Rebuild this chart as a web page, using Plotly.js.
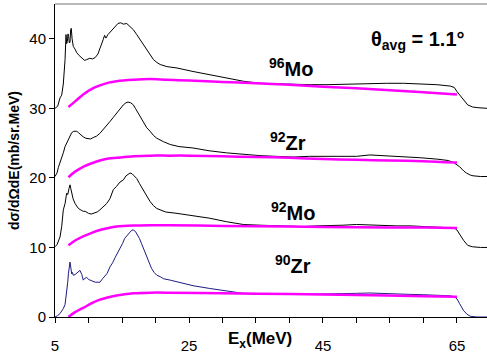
<!DOCTYPE html>
<html>
<head>
<meta charset="utf-8">
<script src="https://cdn.plot.ly/plotly-3.0.1.min.js"></script>
<style>html,body{margin:0;padding:0;background:#fff;}#chart{width:487px;height:353px;}</style>
</head>
<body>
<div id="chart"></div>
<script>
// ---- 96Mo spectrum (offset +30) ----
const mo96E = [5.0,5.4,5.75,6.0,6.24,6.4,6.5,6.64,6.74,6.84,6.94,7.04,7.14,7.24,7.34,7.43,7.55,7.73,8.0,8.24,8.6,9.0,9.4,9.73,10.2,10.6,11.0,11.4,11.7,12.0,12.2,12.4,12.6,12.9,13.2,13.6,14.0,14.4,14.8,15.2,15.7,16.2,16.7,17.2,17.7,18.2,18.7,19.2,19.7,20.2,20.7,21.7,23.2,25.6,28.1,30.6,33.1,35.6,38.1,40.5,43.1,45.6,49.5,52,54.5,57,59.5,62,64.0,64.6,65.0,65.5,66.0,66.6,67.3,68.0,69.5];
const mo96Y = [30.0,30.3,31.5,31.9,33.5,35.5,37.0,40.6,39.3,39.6,40.7,40.3,39.4,39.5,41.3,41.5,40.0,38.9,38.5,38.0,37.6,37.2,36.9,37.0,37.2,37.1,37.3,37.8,38.5,39.3,39.9,40.5,40.1,40.6,40.9,41.3,41.8,42.2,42.3,42.1,42.2,41.8,41.3,40.6,39.9,39.2,38.5,37.7,37.0,36.6,36.3,36.0,35.8,35.3,34.8,34.4,33.9,33.6,33.5,33.4,33.4,33.4,33.5,33.6,33.6,33.6,33.5,33.4,33.2,33.0,32.4,31.8,31.2,30.5,30.2,30.1,30.0];
const mo96BgE = [7,8,9.2,10.5,11.7,13,14.2,16.7,19.2,21.7,25,30,35,40,45,50,55,60,65];
const mo96BgY = [30.2,31.0,32.0,32.8,33.3,33.7,33.9,34.1,34.2,34.1,34.0,33.8,33.6,33.4,33.1,32.9,32.6,32.3,32.0];

// ---- 92Zr spectrum (offset +20) ----
const zr92E = [5.0,5.3,5.5,5.8,6.0,6.24,6.5,6.74,6.99,7.2,7.49,7.8,8.24,8.5,8.73,9.0,9.22,9.6,9.97,10.3,10.7,11.2,11.7,12.1,12.5,13.2,13.7,14.2,14.7,15.2,15.6,15.9,16.3,16.7,17.0,17.4,17.8,18.2,18.7,19.2,19.7,20.2,20.7,21.2,22.2,23.5,25.6,28,30.6,33,35.6,38,40.6,43,45.6,48,50,52,54.5,57,59.5,62,63.7,64.5,65.0,65.4,66.0,66.4,67.0,67.4,68.5,69.5];
const zr92Y = [20.2,20.7,21.5,22.3,22.8,23.6,24.5,25.0,25.6,26.1,26.5,26.7,26.7,26.5,26.3,26.0,25.9,25.7,25.7,25.6,25.8,26.0,26.4,26.9,27.3,28.1,28.7,29.3,29.9,30.5,30.8,30.9,30.8,30.5,30.0,29.3,28.6,27.9,27.2,26.7,26.1,25.7,25.4,25.2,24.8,24.5,24.3,23.9,23.6,23.4,23.2,23.1,23.0,23.1,23.1,23.2,23.1,23.3,23.2,23.1,22.9,22.7,22.5,22.2,21.9,21.6,21.0,20.7,20.4,20.3,20.2,20.2];
const zr92BgE = [7,8,9.2,10.5,11.7,13,14.2,16.7,19.2,22,25,30,35,40,45,50,55,60,65];
const zr92BgY = [20.1,20.9,21.6,22.1,22.5,22.8,22.9,23.1,23.2,23.2,23.2,23.1,23.0,22.9,22.7,22.6,22.5,22.4,22.2];

// ---- 92Mo spectrum (offset +10) ----
const mo92E = [5.0,5.3,5.75,6.0,6.24,6.5,6.74,6.9,7.1,7.24,7.35,7.49,7.7,8.0,8.24,8.5,9.0,9.22,9.5,10.0,10.4,10.9,11.3,11.7,12.2,12.7,13.2,13.7,14.2,14.7,15.2,15.6,16.2,16.5,16.8,17.2,17.6,18.2,18.7,19.2,19.7,20.2,20.7,21.5,23.2,25.6,28.1,30.6,33.1,35.6,38,40,42,44,46,48,50,52,54,56,58,60,62,64,64.6,65.0,65.7,66.0,66.6,67.3,68.5,69.5];
const mo92Y = [10.1,10.4,11.5,13.0,15.4,16.3,17.8,17.6,18.5,19.0,18.5,17.8,17.0,16.3,15.9,15.6,15.3,15.2,15.2,14.9,14.8,15.0,15.1,15.4,15.9,16.3,17.0,18.3,18.8,19.4,19.7,20.3,20.7,20.6,20.3,19.9,19.2,18.3,17.4,16.6,16.0,15.6,15.4,15.1,14.9,14.6,14.2,13.7,13.3,13.2,13.1,13.1,13.0,13.1,13.1,13.2,13.3,13.2,13.2,13.1,13.1,13.0,13.0,12.9,12.8,12.5,11.3,11.0,10.3,10.1,10.0,10.0];
const mo92BgE = [7,8,9.2,10.5,11.7,13,14.2,16.7,19.2,22,30,40,50,60,65];
const mo92BgY = [10.3,11.0,11.6,12.1,12.5,12.8,13.0,13.15,13.2,13.2,13.1,13.0,12.9,12.85,12.8];

// ---- 90Zr spectrum (no offset) ----
const zr90E = [5.0,5.4,5.75,6.0,6.24,6.5,6.74,6.9,7.0,7.1,7.24,7.35,7.49,7.6,7.73,8.0,8.24,8.5,8.73,9.0,9.22,9.5,9.73,10.0,10.2,10.6,11.0,11.4,11.7,12.1,12.5,12.8,13.2,13.6,14.0,14.4,14.7,15.1,15.4,15.8,16.2,16.5,16.7,17.0,17.2,17.6,17.9,18.3,18.7,19.0,19.4,19.8,20.2,20.7,21.2,22.2,23.7,25.6,28.1,30.6,33.1,35.6,38,40,42,44,46,48,50,52,54,56,58,60,62,64,64.6,65.0,65.4,65.8,66.0,66.5,67.0,68,69.5];
const zr90Y = [0.0,0.2,0.5,0.8,1.2,1.8,3.3,5.0,6.2,7.5,7.9,7.2,6.2,6.4,6.0,6.1,6.3,6.6,6.7,6.1,5.3,5.6,5.7,5.4,5.3,5.1,5.0,5.0,5.0,5.5,6.0,6.3,7.2,7.8,8.6,9.3,9.8,10.6,11.3,11.8,12.2,12.5,12.5,12.3,12.0,11.3,10.6,9.6,8.6,7.8,7.0,6.4,6.0,5.8,5.5,5.3,4.9,4.5,4.1,3.7,3.4,3.35,3.3,3.3,3.25,3.3,3.3,3.35,3.4,3.45,3.35,3.3,3.25,3.2,3.1,3.05,2.9,2.6,1.9,1.3,0.9,0.4,0.1,0.0,0.0];
const zr90BgE = [7,8,9.2,10.5,11.7,13,14.2,16.7,19.2,22,30,40,50,60,65];
const zr90BgY = [0.0,0.7,1.3,2.0,2.5,2.85,3.1,3.4,3.5,3.5,3.4,3.3,3.15,3.0,2.9];

const xTicks = [5, 25, 45, 65];
const yTicks = [0, 10, 20, 30, 40];

const spectra = [
  {e: mo96E, y: mo96Y, be: mo96BgE, by: mo96BgY, color: '#000000'},
  {e: zr92E, y: zr92Y, be: zr92BgE, by: zr92BgY, color: '#000000'},
  {e: mo92E, y: mo92Y, be: mo92BgE, by: mo92BgY, color: '#000000'},
  {e: zr90E, y: zr90Y, be: zr90BgE, by: zr90BgY, color: '#1c1c84'}
];

const traces = [];
spectra.forEach(s => {
  traces.push({x: s.e, y: s.y, type: 'scatter', mode: 'lines', line: {color: s.color, width: 1}, hoverinfo: 'skip'});
});
spectra.forEach(s => {
  traces.push({x: s.be, y: s.by, type: 'scatter', mode: 'lines', line: {color: '#ff00ff', width: 2.5, shape: 'spline', smoothing: 0.8}, hoverinfo: 'skip'});
});

const FONT = 'Arial, "Liberation Sans", sans-serif';
const lbl = (x, y, t, size) => ({x: x, y: y, xref: 'x', yref: 'y', text: t, showarrow: false, font: {family: FONT, size: size, color: '#000'}, xanchor: 'center', yanchor: 'middle'});

const layout = {
  width: 487, height: 353,
  margin: {l: 55, r: 0, t: 4, b: 36},
  paper_bgcolor: '#fff', plot_bgcolor: '#fff',
  showlegend: false,
  font: {family: FONT, color: '#000'},
  xaxis: {
    range: [5, 69.48], tickvals: xTicks, ticktext: xTicks.map(String),
    ticks: 'outside', ticklen: 5, tickcolor: '#000', tickwidth: 1,
    minor: {dtick: 5, tick0: 5, ticks: 'outside', ticklen: 5, tickcolor: '#000', tickwidth: 1, showgrid: false},
    showline: true, linecolor: '#000', linewidth: 1,
    showgrid: false, zeroline: false,
    tickfont: {family: FONT, size: 15, color: '#000'},
    ticklabelstandoff: 10
  },
  yaxis: {
    range: [0, 45.0], tickvals: yTicks,
    ticks: 'outside', ticklen: 5, tickcolor: '#000', tickwidth: 1,
    showline: true, linecolor: '#000', linewidth: 1,
    showgrid: false, zeroline: false,
    tickfont: {family: FONT, size: 15, color: '#000'},
    title: {text: '<b>dσ/dΩdE(mb/sr.MeV)</b>', font: {family: FONT, size: 14, color: '#000'}, standoff: 6}
  },
  shapes: [
    {type: 'line', xref: 'paper', yref: 'paper', x0: 0, x1: 1, y0: 1, y1: 1, line: {color: '#a0a0a0', width: 1.5}}
  ],
  annotations: [
    lbl(40.2, 35.8, '<b><sup>96</sup>Mo</b>', 20),
    lbl(39.8, 25.3, '<b><sup>92</sup>Zr</b>', 20),
    lbl(40.5, 15.1, '<b><sup>92</sup>Mo</b>', 20),
    lbl(40.5, 7.6, '<b><sup>90</sup>Zr</b>', 20),
    lbl(59.2, 39.8, '<b>θ<sub>avg</sub> = 1.1°</b>', 20),
    {x: 0.4745, y: -0.0735, xref: 'paper', yref: 'paper', text: '<b>E<sub>x</sub>(MeV)</b>', showarrow: false,
     font: {family: FONT, size: 17, color: '#000'}, xanchor: 'center', yanchor: 'middle'}
  ]
};

Plotly.newPlot('chart', traces, layout, {staticPlot: true, displayModeBar: false});
</script>
</body>
</html>
